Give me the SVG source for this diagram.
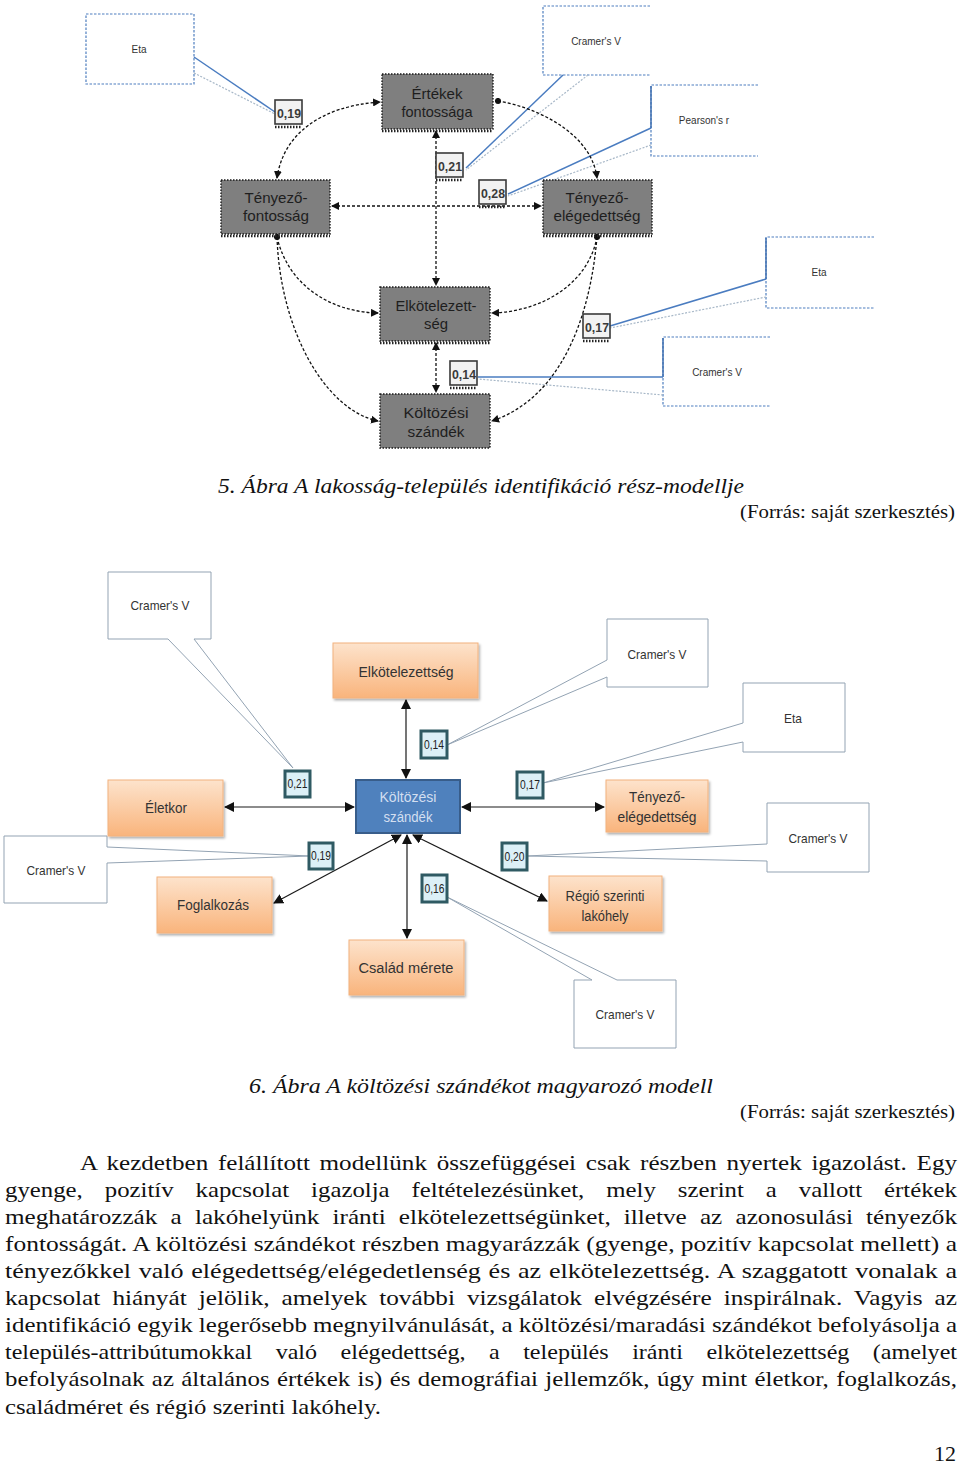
<svg xmlns="http://www.w3.org/2000/svg" width="960" height="1464" viewBox="0 0 960 1464">
<style>
.gbox{fill:#7f7f7f;stroke:#1a1a1a;stroke-width:1.4;stroke-dasharray:1.5 1.5}
.gstrip{stroke:#222;stroke-width:2.5;stroke-dasharray:1.5 1.5;fill:none}
.gtxt{font-family:"Liberation Sans",Arial,sans-serif;font-size:15px;fill:#1e1e1e;text-anchor:middle}
.lbl1{fill:#f2f2f2;stroke:#3a3a3a;stroke-width:1.6}
.lbl1t{font-family:"Liberation Sans",Arial,sans-serif;font-size:13px;font-weight:bold;fill:#3a3a3a;text-anchor:middle}
.cbox1{fill:#fff;stroke:#4f7fbf;stroke-width:1.2;stroke-dasharray:2.5 1.5}
.cedge{fill:none;stroke:#3f6fb0;stroke-width:1.5}
.ptr1{fill:none;stroke:#4a7cc0;stroke-width:1.5}
.ptr1b{fill:none;stroke:#a8b8c8;stroke-width:1.2;stroke-dasharray:2 1.5}
.ctxt1{font-family:"Liberation Sans",Arial,sans-serif;font-size:10px;fill:#333;text-anchor:middle}
.con1{fill:none;stroke:#111;stroke-width:1.3;stroke-dasharray:3 2}
.obox{fill:url(#og);stroke:#f2b27e;stroke-width:1;filter:url(#sh)}
.otxt{font-family:"Liberation Sans",Arial,sans-serif;font-size:14px;fill:#333;text-anchor:middle}
.lbl2{fill:#dcf0f7;stroke:#2f5a63;stroke-width:3}
.lbl2t{font-family:"Liberation Sans",Arial,sans-serif;font-size:12px;fill:#222;text-anchor:middle}
.cbox2{fill:#fff;stroke:#93a3b3;stroke-width:1}
.ctxt2{font-family:"Liberation Sans",Arial,sans-serif;font-size:13px;fill:#333;text-anchor:middle}
.con2{fill:none;stroke:#1a1a1a;stroke-width:1.2}
.cap{font-family:"Liberation Serif","Times New Roman",serif;font-style:italic;font-size:21px;fill:#111}
.src{font-family:"Liberation Serif","Times New Roman",serif;font-size:19px;fill:#111;text-anchor:end}
.body{font-family:"Liberation Serif","Times New Roman",serif;font-size:22px;fill:#111}
</style>
<defs>
<linearGradient id="og" x1="0" y1="0" x2="0" y2="1">
<stop offset="0" stop-color="#fde3cc"/>
<stop offset="1" stop-color="#f9b47c"/>
</linearGradient>
<filter id="sh" x="-10%" y="-10%" width="125%" height="130%">
<feDropShadow dx="1.5" dy="2" stdDeviation="1.2" flood-color="#000" flood-opacity="0.3"/>
</filter>
<marker id="a1" viewBox="0 0 8 8" refX="7" refY="4" markerWidth="8" markerHeight="8" markerUnits="userSpaceOnUse" orient="auto-start-reverse">
<path d="M0,0 L8,4 L0,8 z" fill="#111"/>
</marker>
<marker id="d1" viewBox="0 0 8 8" refX="4" refY="4" markerWidth="7" markerHeight="7" markerUnits="userSpaceOnUse">
<circle cx="4" cy="4" r="3.5" fill="#111"/>
</marker>
<marker id="a2" viewBox="0 0 10 10" refX="9" refY="5" markerWidth="10" markerHeight="10" markerUnits="userSpaceOnUse" orient="auto-start-reverse">
<path d="M0,0 L10,5 L0,10 z" fill="#111"/>
</marker>
</defs>
<rect width="960" height="1464" fill="#fff"/>

<!-- ===== Figure 5 ===== -->
<g id="fig5-callouts">
<g id="c5-eta-left">
<rect x="86" y="14" width="108" height="70" class="cbox1" stroke="#7f9fbf"/>
<line x1="194" y1="57" x2="275" y2="112" class="ptr1" stroke="#6a90c0"/>
<line x1="194" y1="73" x2="275" y2="114" class="ptr1b"/>
<text x="139" y="53" class="ctxt1">Eta</text>
</g>
<g id="c5-cramer-top">
<path d="M650,6 H543 V75 H650" class="cbox1"/>
<line x1="563" y1="75" x2="466" y2="168" class="ptr1"/>
<line x1="588" y1="75" x2="466" y2="170" class="ptr1b"/>
<text x="596" y="45" class="ctxt1">Cramer's V</text>
</g>
<g id="c5-pearson">
<path d="M758,85 H651 V156 H758" class="cbox1"/>
<line x1="651" y1="86" x2="651" y2="128" class="cedge"/>
<line x1="651" y1="128" x2="508" y2="194" class="ptr1"/>
<line x1="651" y1="145" x2="508" y2="196" class="ptr1b"/>
<text x="704" y="124" class="ctxt1">Pearson's r</text>
</g>
<g id="c5-eta-right">
<path d="M874,237 H766 V308 H874" class="cbox1"/>
<line x1="766" y1="238" x2="766" y2="279" class="cedge"/>
<line x1="766" y1="279" x2="610" y2="326" class="ptr1"/>
<line x1="766" y1="297" x2="610" y2="328" class="ptr1b"/>
<text x="819" y="276" class="ctxt1">Eta</text>
</g>
<g id="c5-cramer-bottom">
<path d="M770,337 H663 V406 H770" class="cbox1"/>
<line x1="663" y1="338" x2="663" y2="377" class="cedge"/>
<line x1="663" y1="377" x2="478" y2="377" class="ptr1"/>
<line x1="663" y1="395" x2="478" y2="379" class="ptr1b"/>
<text x="717" y="376" class="ctxt1">Cramer's V</text>
</g>
</g>

<g id="fig5-connectors">
<path d="M277,178 C283,135 320,106 380,102" class="con1" marker-start="url(#a1)" marker-end="url(#a1)"/>
<path d="M498,101 C540,108 592,135 597,178" class="con1" marker-start="url(#d1)" marker-end="url(#a1)"/>
<path d="M436,131 V285" class="con1" marker-start="url(#a1)" marker-end="url(#a1)"/>
<path d="M332,206 H541" class="con1" marker-start="url(#a1)" marker-end="url(#a1)"/>
<path d="M277,237 C288,285 330,312 378,313" class="con1" marker-start="url(#d1)" marker-end="url(#a1)"/>
<path d="M277,237 C280,330 325,410 378,421" class="con1" marker-end="url(#a1)"/>
<path d="M597,237 C588,285 540,312 492,313" class="con1" marker-start="url(#d1)" marker-end="url(#a1)"/>
<path d="M597,237 C590,320 560,398 492,421" class="con1" stroke-dasharray="5 1.5" marker-end="url(#a1)"/>
<path d="M436,343 V392" class="con1" marker-start="url(#a1)" marker-end="url(#a1)"/>
</g>

<g id="n5-ertekek">
<rect x="382" y="74" width="111" height="55" class="gbox"/>
<line x1="382" y1="131" x2="493" y2="131" class="gstrip"/>
<text x="437" y="99" class="gtxt" textLength="51" lengthAdjust="spacingAndGlyphs">Értékek</text>
<text x="437" y="117" class="gtxt" textLength="71" lengthAdjust="spacingAndGlyphs">fontossága</text>
</g>
<g id="n5-tenyezo-fontossag">
<rect x="221" y="180" width="109" height="54" class="gbox"/>
<line x1="221" y1="236" x2="330" y2="236" class="gstrip"/>
<text x="276" y="203" class="gtxt" textLength="63" lengthAdjust="spacingAndGlyphs">Tényező-</text>
<text x="276" y="221" class="gtxt" textLength="66" lengthAdjust="spacingAndGlyphs">fontosság</text>
</g>
<g id="n5-tenyezo-elegedettseg">
<rect x="543" y="180" width="109" height="54" class="gbox"/>
<line x1="543" y1="236" x2="652" y2="236" class="gstrip"/>
<text x="597" y="203" class="gtxt" textLength="63" lengthAdjust="spacingAndGlyphs">Tényező-</text>
<text x="597" y="221" class="gtxt" textLength="87" lengthAdjust="spacingAndGlyphs">elégedettség</text>
</g>
<g id="n5-elkotelezettseg">
<rect x="380" y="287" width="110" height="54" class="gbox"/>
<line x1="380" y1="343" x2="490" y2="343" class="gstrip"/>
<text x="436" y="311" class="gtxt" textLength="81" lengthAdjust="spacingAndGlyphs">Elkötelezett-</text>
<text x="436" y="329" class="gtxt" textLength="24" lengthAdjust="spacingAndGlyphs">ség</text>
</g>
<g id="n5-koltozesi">
<rect x="380" y="394" width="110" height="54" class="gbox"/>
<text x="436" y="418" class="gtxt" textLength="65" lengthAdjust="spacingAndGlyphs">Költözési</text>
<text x="436" y="437" class="gtxt" textLength="57" lengthAdjust="spacingAndGlyphs">szándék</text>
</g>

<g id="fig5-labels">
<g id="l5-019"><rect x="275" y="100" width="27" height="24" class="lbl1"/><line x1="275" y1="127" x2="302" y2="127" class="gstrip"/><text x="289" y="118" class="lbl1t" textLength="24" lengthAdjust="spacingAndGlyphs">0,19</text></g>
<g id="l5-021"><rect x="436" y="153" width="27" height="24" class="lbl1"/><line x1="436" y1="180" x2="463" y2="180" class="gstrip"/><text x="450" y="171" class="lbl1t" textLength="24" lengthAdjust="spacingAndGlyphs">0,21</text></g>
<g id="l5-028"><rect x="479" y="180" width="27" height="24" class="lbl1"/><line x1="479" y1="207" x2="506" y2="207" class="gstrip"/><text x="493" y="198" class="lbl1t" textLength="24" lengthAdjust="spacingAndGlyphs">0,28</text></g>
<g id="l5-017"><rect x="583" y="314" width="27" height="24" class="lbl1"/><line x1="583" y1="341" x2="610" y2="341" class="gstrip"/><text x="597" y="332" class="lbl1t" textLength="24" lengthAdjust="spacingAndGlyphs">0,17</text></g>
<g id="l5-014"><rect x="450" y="361" width="27" height="24" class="lbl1"/><line x1="450" y1="388" x2="477" y2="388" class="gstrip"/><text x="464" y="379" class="lbl1t" textLength="24" lengthAdjust="spacingAndGlyphs">0,14</text></g>
</g>

<text x="218" y="493" class="cap" textLength="526" lengthAdjust="spacingAndGlyphs">5. Ábra A lakosság-település identifikáció rész-modellje</text>
<text x="955" y="518" class="src" textLength="215" lengthAdjust="spacingAndGlyphs">(Forrás: saját szerkesztés)</text>

<!-- ===== Figure 6 ===== -->
<g id="fig6-callouts">
<g id="c6-cramer-tl">
<path d="M108,572 H211 V639 H194 L293,768 L168,639 H108 Z" class="cbox2"/>
<text x="160" y="610" class="ctxt2" textLength="59" lengthAdjust="spacingAndGlyphs">Cramer's V</text>
</g>
<g id="c6-cramer-left">
<path d="M4,836 H107 V847 L310,856 L107,863 V903 H4 Z" class="cbox2"/>
<text x="56" y="875" class="ctxt2" textLength="59" lengthAdjust="spacingAndGlyphs">Cramer's V</text>
</g>
<g id="c6-cramer-tr">
<path d="M607,619 H708 V687 H607 V677 L447,745 L607,660 Z" class="cbox2"/>
<text x="657" y="659" class="ctxt2" textLength="59" lengthAdjust="spacingAndGlyphs">Cramer's V</text>
</g>
<g id="c6-eta">
<path d="M743,683 H845 V752 H743 V742 L543,783 L743,723 Z" class="cbox2"/>
<text x="793" y="723" class="ctxt2" textLength="18" lengthAdjust="spacingAndGlyphs">Eta</text>
</g>
<g id="c6-cramer-right">
<path d="M767,803 H869 V872 H767 V861 L527,856 L767,844 Z" class="cbox2"/>
<text x="818" y="843" class="ctxt2" textLength="59" lengthAdjust="spacingAndGlyphs">Cramer's V</text>
</g>
<g id="c6-cramer-bottom">
<path d="M574,980 H592 L447,897 L617,980 H676 V1048 H574 Z" class="cbox2"/>
<text x="625" y="1019" class="ctxt2" textLength="59" lengthAdjust="spacingAndGlyphs">Cramer's V</text>
</g>
</g>

<g id="fig6-connectors">
<path d="M406,700 V778" class="con2" marker-start="url(#a2)" marker-end="url(#a2)"/>
<path d="M225,807 H354" class="con2" marker-start="url(#a2)" marker-end="url(#a2)"/>
<path d="M462,807 H604" class="con2" marker-start="url(#a2)" marker-end="url(#a2)"/>
<path d="M401,835 L274,903" class="con2" marker-start="url(#a2)" marker-end="url(#a2)"/>
<path d="M407,835 V938" class="con2" marker-start="url(#a2)" marker-end="url(#a2)"/>
<path d="M413,835 L547,901" class="con2" marker-start="url(#a2)" marker-end="url(#a2)"/>
</g>

<g id="n6-elkotelezettseg">
<rect x="333" y="643" width="145" height="55" class="obox"/>
<text x="406" y="677" class="otxt" textLength="95" lengthAdjust="spacingAndGlyphs">Elkötelezettség</text>
</g>
<g id="n6-eletkor">
<rect x="108" y="780" width="115" height="56" class="obox"/>
<text x="166" y="813" class="otxt" textLength="42" lengthAdjust="spacingAndGlyphs">Életkor</text>
</g>
<g id="n6-koltozesi">
<rect x="356" y="780" width="104" height="53" fill="#4f81bd" stroke="#385d8a" stroke-width="2"/>
<text x="408" y="802" class="otxt" fill="#d3dff0" style="fill:#d3dff0" textLength="57" lengthAdjust="spacingAndGlyphs">Költözési</text>
<text x="408" y="822" class="otxt" style="fill:#d3dff0" textLength="49" lengthAdjust="spacingAndGlyphs">szándék</text>
</g>
<g id="n6-tenyezo-elegedettseg">
<rect x="606" y="780" width="102" height="52" class="obox"/>
<text x="657" y="802" class="otxt" textLength="56" lengthAdjust="spacingAndGlyphs">Tényező-</text>
<text x="657" y="822" class="otxt" textLength="79" lengthAdjust="spacingAndGlyphs">elégedettség</text>
</g>
<g id="n6-foglalkozas">
<rect x="157" y="877" width="115" height="56" class="obox"/>
<text x="213" y="910" class="otxt" textLength="72" lengthAdjust="spacingAndGlyphs">Foglalkozás</text>
</g>
<g id="n6-regio">
<rect x="549" y="876" width="113" height="55" class="obox"/>
<text x="605" y="901" class="otxt" textLength="79" lengthAdjust="spacingAndGlyphs">Régió szerinti</text>
<text x="605" y="921" class="otxt" textLength="47" lengthAdjust="spacingAndGlyphs">lakóhely</text>
</g>
<g id="n6-csalad">
<rect x="349" y="940" width="115" height="55" class="obox"/>
<text x="406" y="973" class="otxt" textLength="95" lengthAdjust="spacingAndGlyphs">Család mérete</text>
</g>

<g id="fig6-labels">
<g id="l6-021"><rect x="285" y="771" width="25" height="26" class="lbl2"/><text x="297.5" y="788" class="lbl2t" textLength="20" lengthAdjust="spacingAndGlyphs">0,21</text></g>
<g id="l6-014"><rect x="421" y="731" width="26" height="27" class="lbl2"/><text x="434" y="749" class="lbl2t" textLength="20" lengthAdjust="spacingAndGlyphs">0,14</text></g>
<g id="l6-017"><rect x="517" y="772" width="26" height="26" class="lbl2"/><text x="530" y="789" class="lbl2t" textLength="20" lengthAdjust="spacingAndGlyphs">0,17</text></g>
<g id="l6-019"><rect x="309" y="843" width="24" height="26" class="lbl2"/><text x="321" y="860" class="lbl2t" textLength="20" lengthAdjust="spacingAndGlyphs">0,19</text></g>
<g id="l6-020"><rect x="502" y="843" width="25" height="27" class="lbl2"/><text x="514.5" y="861" class="lbl2t" textLength="20" lengthAdjust="spacingAndGlyphs">0,20</text></g>
<g id="l6-016"><rect x="422" y="875" width="25" height="27" class="lbl2"/><text x="434.5" y="893" class="lbl2t" textLength="20" lengthAdjust="spacingAndGlyphs">0,16</text></g>
</g>

<text x="249" y="1093" class="cap" textLength="464" lengthAdjust="spacingAndGlyphs">6. Ábra A költözési szándékot magyarozó modell</text>
<text x="955" y="1118" class="src" textLength="215" lengthAdjust="spacingAndGlyphs">(Forrás: saját szerkesztés)</text>

<!-- ===== Body text ===== -->
<g id="body-text">
<text x="80" y="1170" class="body" word-spacing="3" textLength="877" lengthAdjust="spacingAndGlyphs">A kezdetben felállított modellünk összefüggései csak részben nyertek igazolást. Egy</text>
<text x="5" y="1197" class="body" word-spacing="14" textLength="952" lengthAdjust="spacingAndGlyphs">gyenge, pozitív kapcsolat igazolja feltételezésünket, mely szerint a vallott értékek</text>
<text x="5" y="1224" class="body" word-spacing="6" textLength="952" lengthAdjust="spacingAndGlyphs">meghatározzák a lakóhelyünk iránti elkötelezettségünket, illetve az azonosulási tényezők</text>
<text x="5" y="1251" class="body" textLength="952" lengthAdjust="spacingAndGlyphs">fontosságát. A költözési szándékot részben magyarázzák (gyenge, pozitív kapcsolat mellett) a</text>
<text x="5" y="1278" class="body" word-spacing="1" textLength="952" lengthAdjust="spacingAndGlyphs">tényezőkkel való elégedettség/elégedetlenség és az elkötelezettség. A szaggatott vonalak a</text>
<text x="5" y="1305" class="body" word-spacing="5" textLength="952" lengthAdjust="spacingAndGlyphs">kapcsolat hiányát jelölik, amelyek további vizsgálatok elvégzésére inspirálnak. Vagyis az</text>
<text x="5" y="1332" class="body" textLength="952" lengthAdjust="spacingAndGlyphs">identifikáció egyik legerősebb megnyilvánulását, a költözési/maradási szándékot befolyásolja a</text>
<text x="5" y="1359" class="body" word-spacing="16" textLength="952" lengthAdjust="spacingAndGlyphs">település-attribútumokkal való elégedettség, a település iránti elkötelezettség (amelyet</text>
<text x="5" y="1386" class="body" word-spacing="1" textLength="952" lengthAdjust="spacingAndGlyphs">befolyásolnak az általános értékek is) és demográfiai jellemzők, úgy mint életkor, foglalkozás,</text>
<text x="5" y="1414" class="body" textLength="376" lengthAdjust="spacingAndGlyphs">családméret és régió szerinti lakóhely.</text>
<text x="956" y="1461" class="body" text-anchor="end">12</text>
</g>
</svg>
